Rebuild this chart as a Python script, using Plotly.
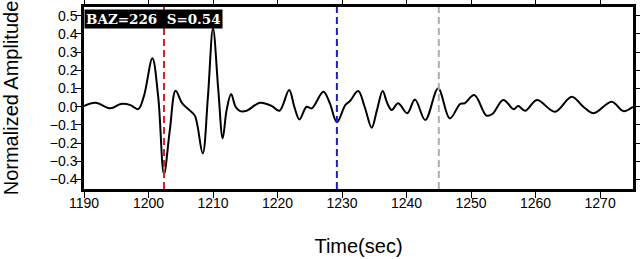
import plotly.graph_objects as go

# Waveform samples (time in s, normalized amplitude)
time_s = [1190.0, 1191.8, 1194.1, 1195.7, 1197.2, 1198.4, 1199.3, 1200.6, 1201.5, 1202.4,
          1203.3, 1204.2, 1205.2, 1206.4, 1207.2, 1208.4, 1209.2, 1210.0, 1210.8, 1211.5,
          1212.1, 1212.8, 1213.5, 1214.2, 1215.2, 1217.3, 1219.1, 1220.3, 1221.8, 1222.6,
          1223.4, 1224.5, 1225.3, 1227.1, 1228.1, 1229.2, 1230.5, 1231.2, 1232.5, 1233.5,
          1234.6, 1235.4, 1236.3, 1237.0, 1237.7, 1238.7, 1240.1, 1241.3, 1242.9, 1244.9,
          1246.7, 1248.3, 1249.0, 1250.5, 1252.4, 1253.3, 1255.0, 1256.6, 1257.3, 1258.4,
          1260.2, 1263.0, 1265.6, 1267.4, 1269.0, 1271.8, 1273.6, 1275.1]
amplitude = [0.004, 0.022, -0.009, 0.015, 0.009, -0.013, 0.06, 0.266, 0.055, -0.37,
             -0.13, 0.088, 0.02, -0.02, -0.05, -0.256, 0.05, 0.43, 0.10, -0.174,
             -0.02, 0.07, 0.0, -0.024, -0.022, 0.022, 0.004, -0.022, 0.092, 0.0,
             -0.07, 0.0, -0.009, 0.082, 0.02, -0.085, 0.009, 0.03, 0.086, 0.0,
             -0.115, -0.02, 0.086, 0.02, -0.018, 0.019, -0.036, 0.04, -0.073, 0.10,
             -0.064, 0.015, 0.019, 0.064, -0.049, -0.04, 0.037, -0.014, 0.004, -0.022,
             0.037, -0.027, 0.055, 0.0, -0.036, 0.027, -0.024, 0.0]

# Marker lines (time in s) and colours
marker_times = [1202.4, 1229.2, 1245.0]
marker_colors = ["rgb(215,35,35)", "rgb(30,30,200)", "rgb(175,175,175)"]

x_ticks = [1190, 1200, 1210, 1220, 1230, 1240, 1250, 1260, 1270]
y_ticks = [-0.4, -0.3, -0.2, -0.1, 0.0, 0.1, 0.2, 0.3, 0.4, 0.5]
label_text = "BAZ=226 \u00a0S=0.54"

fig = go.Figure()
fig.add_trace(go.Scatter(x=time_s, y=amplitude, mode="lines",
                         line=dict(color="black", width=2, shape="spline", smoothing=1.0),
                         hoverinfo="skip", showlegend=False))

for t, c in zip(marker_times, marker_colors):
    fig.add_shape(type="line", xref="x", yref="paper", x0=t, x1=t, y0=0, y1=1,
                  line=dict(color=c, width=2, dash="7px,4px"), layer="above")

axis_common = dict(showline=True, linewidth=2.5, linecolor="black", mirror="ticks",
                   ticks="outside", ticklen=6, tickwidth=1.2, tickcolor="black",
                   showgrid=False, zeroline=False, automargin=False,
                   tickfont=dict(family="Liberation Sans, Arial", size=14, color="black"))

fig.update_xaxes(range=[1190, 1275.1], tickvals=x_ticks, ticklabelstandoff=-7,
                 title=dict(text="Time(sec)", standoff=30,
                            font=dict(family="Liberation Sans, Arial", size=20, color="black")),
                 **axis_common)
fig.update_yaxes(range=[-0.452, 0.548], tickvals=y_ticks, tickformat=".1f",
                 ticklabelstandoff=-5,
                 title=dict(text="Normalized Amplitude", standoff=26,
                            font=dict(family="Liberation Sans, Arial", size=20, color="black")),
                 **axis_common)

fig.add_annotation(xref="paper", yref="paper", x=0, y=1, xanchor="left", yanchor="top",
                   yshift=-2, text=label_text, showarrow=False, bgcolor="black",
                   borderpad=1,
                   font=dict(family="DejaVu Serif", size=13.5, color="white", weight="bold"))

fig.update_layout(width=640, height=259, margin=dict(l=84, r=7, t=7, b=70, autoexpand=False),
                  paper_bgcolor="white", plot_bgcolor="white")

fig.write_html("out.html")
